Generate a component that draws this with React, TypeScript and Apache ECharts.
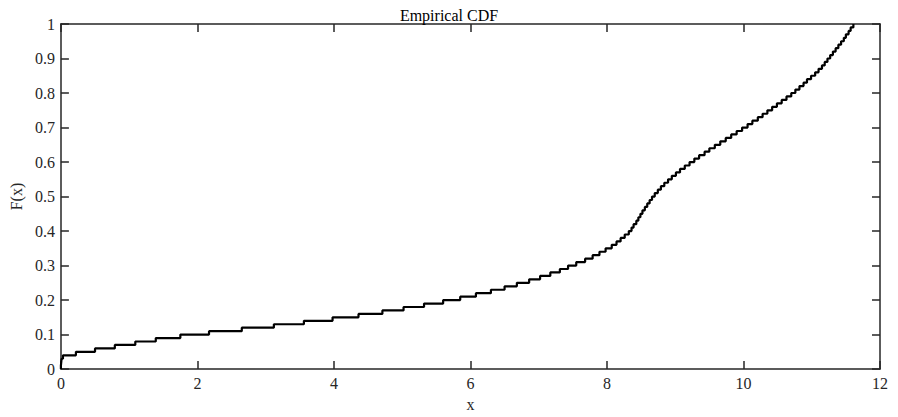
import React, { useEffect, useRef } from "react";
import * as echarts from "echarts";

// Sorted sample values read from the step positions of the empirical CDF (100 samples)
const sampleX: number[] = [
  0.0, 0.005, 0.01, 0.03, 0.22, 0.5, 0.79, 1.09, 1.39, 1.75,
  2.17, 2.65, 3.12, 3.56, 3.98, 4.36, 4.71, 5.02, 5.32, 5.6,
  5.85, 6.08, 6.3, 6.5, 6.68, 6.86, 7.02, 7.17, 7.31, 7.43,
  7.55, 7.68, 7.79, 7.89, 7.98, 8.07, 8.14, 8.2, 8.26, 8.32,
  8.36, 8.39, 8.43, 8.46, 8.49, 8.52, 8.555, 8.59, 8.625, 8.66,
  8.7, 8.745, 8.79, 8.84, 8.895, 8.95, 9.01, 9.07, 9.14, 9.21,
  9.28, 9.35, 9.43, 9.5, 9.58, 9.66, 9.74, 9.82, 9.9, 9.98,
  10.06, 10.13, 10.21, 10.28, 10.35, 10.42, 10.49, 10.56, 10.63, 10.7,
  10.76, 10.82, 10.88, 10.93, 10.99, 11.05, 11.1, 11.15, 11.19, 11.23,
  11.27, 11.31, 11.35, 11.39, 11.43, 11.47, 11.5, 11.54, 11.57, 11.61,
];

const xTicks = { min: 0, max: 12, interval: 2 };
const yTicks = { min: 0, max: 1, interval: 0.1 };

const titleText = "Empirical CDF";
const xName = "x";
const yName = "F(x)";

const FONT = "'Liberation Serif', 'Times New Roman', serif";
const INK = "#262626";
const FS = 16;

export default function App() {
  const ref = useRef<HTMLDivElement>(null);

  useEffect(() => {
    if (!ref.current) return;
    const chart = echarts.init(ref.current, undefined, { renderer: "svg" });

    const n = sampleX.length;
    const ecdf: [number, number][] = [[sampleX[0], 0]];
    sampleX.forEach((x, i) => ecdf.push([x, (i + 1) / n]));

    const axisLine = { show: true, onZero: false, lineStyle: { color: INK, width: 1.5 } };
    const tick = { show: true, inside: true, length: 8, lineStyle: { color: INK, width: 1.5 } };

    chart.setOption({
      animation: false,
      backgroundColor: "#ffffff",
      title: {
        text: titleText,
        left: "center",
        top: 2,
        textStyle: { fontFamily: FONT, fontSize: FS, fontWeight: "normal", color: "#000" },
      },
      grid: { left: 59, right: 18, top: 24, bottom: 42, containLabel: false },
      xAxis: [
        {
          type: "value",
          position: "bottom",
          ...xTicks,
          name: xName,
          nameLocation: "middle",
          nameGap: 24,
          nameTextStyle: { fontFamily: FONT, fontSize: FS, color: INK },
          axisLine,
          axisTick: tick,
          splitLine: { show: false },
          axisLabel: { fontFamily: FONT, fontSize: FS, color: INK, margin: 6 },
        },
        {
          type: "value",
          position: "top",
          ...xTicks,
          axisLine,
          axisTick: tick,
          splitLine: { show: false },
          axisLabel: { show: false },
        },
      ],
      yAxis: [
        {
          type: "value",
          position: "left",
          ...yTicks,
          name: yName,
          nameLocation: "middle",
          nameGap: 30,
          nameRotate: 90,
          nameTextStyle: { fontFamily: FONT, fontSize: FS, color: INK },
          axisLine,
          axisTick: tick,
          splitLine: { show: false },
          axisLabel: {
            fontFamily: FONT,
            fontSize: FS,
            color: INK,
            margin: 6,
            formatter: (v: number) => String(+v.toFixed(1)),
          },
        },
        {
          type: "value",
          position: "right",
          ...yTicks,
          axisLine,
          axisTick: tick,
          splitLine: { show: false },
          axisLabel: { show: false },
        },
      ],
      series: [
        {
          type: "line",
          step: "end",
          data: ecdf,
          showSymbol: false,
          symbol: "none",
          lineStyle: { color: "#000000", width: 2.2 },
          xAxisIndex: 0,
          yAxisIndex: 0,
        },
      ],
    });

    return () => chart.dispose();
  }, []);

  return (
    <div
      ref={ref}
      style={{ position: "fixed", left: 0, top: 0, width: 898, height: 417, background: "#fff" }}
    />
  );
}
